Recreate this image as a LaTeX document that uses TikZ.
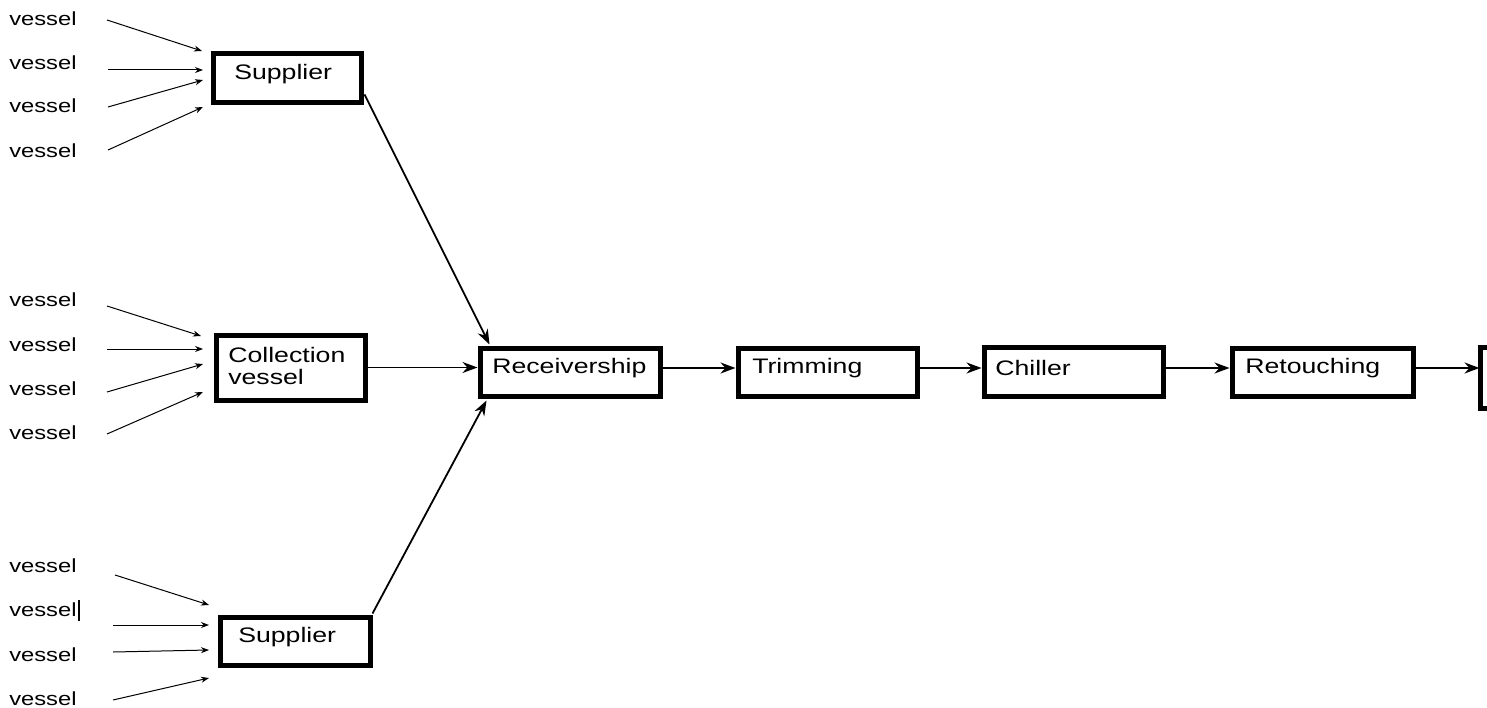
\documentclass[tikz,border=0pt]{standalone}
\usepackage{fontspec}
\setmainfont{Liberation Sans}
\usetikzlibrary{arrows.meta,calc}

\tikzset{
  stage/.style={draw, line width=5pt, rectangle, inner sep=0pt},
  caption/.style={anchor=west, inner sep=0pt, font=\fontsize{21}{22}\selectfont, xscale=1.27, transform shape},
  src/.style={anchor=west, inner sep=0pt, font=\fontsize{19}{20}\selectfont, xscale=1.25, transform shape},
  feed/.style={line width=1pt, -{Stealth[length=8pt,width=6pt]}},
  flow/.style={line width=1.8pt, -{Stealth[length=15pt,width=11pt]}},
}

\begin{document}
\begin{tikzpicture}[x=1pt,y=-1pt]
\useasboundingbox (0,0) rectangle (1487,708);
\fill[white] (0,0) rectangle (1487,708);
\begin{scope}
\clip (0,0) rectangle (1487,708);

% ---- process boxes ----
\node[stage, minimum width=148pt, minimum height=49pt] (sup1) at (287,78.5) {};
\node[stage, minimum width=149pt, minimum height=65pt] (coll) at (290.5,367.5) {};
\node[stage, minimum width=150pt, minimum height=48pt] (sup2) at (295,641) {};
\node[stage, minimum width=180pt, minimum height=48pt] (rec)   at (570,372) {};
\node[stage, minimum width=179pt, minimum height=48pt] (trim)  at (827.5,372) {};
\node[stage, minimum width=179pt, minimum height=49pt] (chill) at (1073.5,371.5) {};
\node[stage, minimum width=181pt, minimum height=48pt] (ret)   at (1322.5,372) {};
\node[stage, minimum width=120pt, minimum height=61pt] (next)  at (1540,377.5) {};

% ---- box captions ----
\node[caption] (tsup1) at (234,74) {Supplier};
\node[caption, align=left] (tcoll) at (228,366) {Collection\\vessel};
\node[caption] (tsup2) at (238,637) {Supplier};
\node[caption] (trec)   at (492,368) {Receivership};
\node[caption] (ttrim)  at (752,368) {Trimming};
\node[caption] (tchill) at (995,368) {Chiller};
\node[caption] (tret)   at (1245,368) {Retouching};

% ---- vessel sources, top group ----
\foreach \i/\y in {1/19,2/63,3/106,4/151}
  \node[src] (va\i) at (9,\y) {vessel};
\coordinate (a1s) at (107,20);  \coordinate (a1e) at (202,51);
\coordinate (a2s) at (108,70);  \coordinate (a2e) at (203,70);
\coordinate (a3s) at (108,107); \coordinate (a3e) at (203,80);
\coordinate (a4s) at (108,150); \coordinate (a4e) at (203,107);
\foreach \i in {1,...,4} \draw[feed] (a\i s) -- (a\i e);

% ---- vessel sources, middle group ----
\foreach \i/\y in {1/300,2/345,3/389,4/433}
  \node[src] (vb\i) at (9,\y) {vessel};
\coordinate (b1s) at (107,306); \coordinate (b1e) at (201,336);
\coordinate (b2s) at (107,349); \coordinate (b2e) at (203,349);
\coordinate (b3s) at (107,392); \coordinate (b3e) at (203,364);
\coordinate (b4s) at (107,434); \coordinate (b4e) at (203,392);
\foreach \i in {1,...,4} \draw[feed] (b\i s) -- (b\i e);

% ---- vessel sources, bottom group ----
\foreach \i/\y in {1/566,2/610,3/655,4/699}
  \node[src] (vc\i) at (9,\y) {vessel};
\draw[line width=1.8pt] ($(vc2.east)+(2,-10)$) -- ($(vc2.east)+(2,11)$);
\coordinate (c1s) at (115,575); \coordinate (c1e) at (209,605);
\coordinate (c2s) at (113,625); \coordinate (c2e) at (209,625);
\coordinate (c3s) at (113,652); \coordinate (c3e) at (209,650);
\coordinate (c4s) at (113,700); \coordinate (c4e) at (209,678);
\foreach \i in {1,...,4} \draw[feed] (c\i s) -- (c\i e);

% ---- main flow ----
\draw[flow] ($(sup1.south east)+(1,-11)$) -- ($(rec.north west)+(12,-1)$);
\draw[flow] (coll.east) -- (coll.east -| rec.west);
\draw[flow] ($(sup2.north east)+(0,-1)$) -- ($(rec.south west)+(9,2)$);
\draw[flow] ($(rec.east)+(0,-4)$) -- ($(trim.west)+(0,-4)$);
\draw[flow] ($(trim.east)+(0,-4)$) -- ($(chill.west)+(0,-3.5)$);
\draw[flow] ($(chill.east)+(0,-3.5)$) -- ($(ret.west)+(0,-4)$);
\draw[flow] ($(ret.east)+(0,-4)$) -- ($(ret.east)+(64,-4)$) coordinate (nin);
\end{scope}
\end{tikzpicture}
\end{document}
